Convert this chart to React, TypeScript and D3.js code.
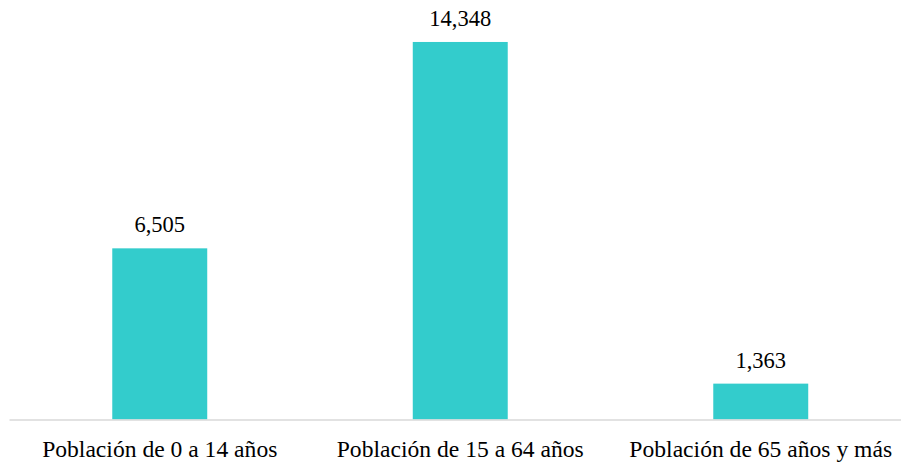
import React, { useRef, useEffect } from 'react';
import * as d3 from 'd3';

const categories = ['Población de 0 a 14 años', 'Población de 15 a 64 años', 'Población de 65 años y más'];
const values = [6505, 14348, 1363];
const yMax = 16000;

const W = 901;
const H = 464;

export default function App() {
  const svgRef = useRef<SVGSVGElement>(null);

  useEffect(() => {
    if (!svgRef.current) return;
    const svg = d3.select(svgRef.current);
    svg.selectAll('*').remove();

    const baseY = 419.5;
    const x = d3.scaleBand<string>()
      .domain(categories)
      .range([9.5, 911])
      .paddingInner(0.684)
      .paddingOuter(0.342);

    const y = d3.scaleLinear()
      .domain([0, yMax])
      .range([baseY, -1.5]);

    const font = '"Liberation Serif", "Times New Roman", serif';

    // Bars
    svg.append('g')
      .selectAll('rect')
      .data(values)
      .join('rect')
      .attr('x', (_, i) => x(categories[i])!)
      .attr('y', d => y(d))
      .attr('width', x.bandwidth())
      .attr('height', d => baseY - y(d))
      .attr('fill', '#33cccc');

    // Baseline
    svg.append('line')
      .attr('x1', 9.5)
      .attr('x2', W)
      .attr('y1', baseY + 0.5)
      .attr('y2', baseY + 0.5)
      .attr('stroke', '#d9d9d9')
      .attr('stroke-width', 1.3);

    // Value labels
    svg.append('g')
      .selectAll('text')
      .data(values)
      .join('text')
      .attr('x', (_, i) => x(categories[i])! + x.bandwidth() / 2)
      .attr('y', d => y(d) - 16)
      .attr('text-anchor', 'middle')
      .attr('font-family', font)
      .attr('font-size', 22.5)
      .attr('fill', '#000')
      .text(d => d3.format(',')(d));

    // Category labels
    svg.append('g')
      .selectAll('text')
      .data(categories)
      .join('text')
      .attr('x', d => x(d)! + x.bandwidth() / 2)
      .attr('y', 457)
      .attr('text-anchor', 'middle')
      .attr('font-family', font)
      .attr('font-size', 23.6)
      .attr('fill', '#000')
      .text(d => d);
  }, []);

  return (
    <svg
      ref={svgRef}
      width={W}
      height={H}
      style={{ position: 'absolute', left: 0, top: 0, display: 'block', background: '#fff' }}
    />
  );
}
